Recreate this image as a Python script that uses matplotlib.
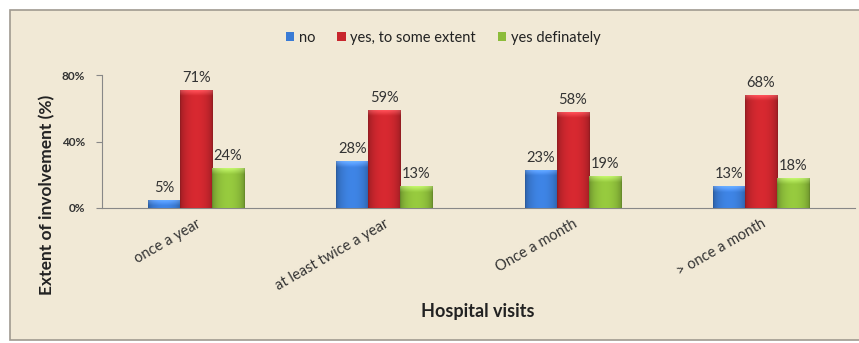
import numpy as np
import matplotlib
matplotlib.use("Agg")
import matplotlib.pyplot as plt
from matplotlib.colors import to_rgb
from matplotlib.patches import Rectangle

categories = ["once a year", "at least twice a year", "Once a month", "> once a month"]
series = ["no", "yes, to some extent", "yes definately"]
no_vals = [0.05, 0.28, 0.23, 0.13]
some_vals = [0.71, 0.59, 0.58, 0.68]
def_vals = [0.24, 0.13, 0.19, 0.18]
yticks = [0.0, 0.4, 0.8]
ytick_labels = ["0%", "40%", "80%"]

colors = ["#3a7bd5", "#c8262d", "#8cbc3a"]
bg = "#f1e9d6"

plt.rcParams["font.family"] = ["Lato", "DejaVu Sans"]

fig = plt.figure(figsize=(8.59, 3.43), dpi=100)
fig.patch.set_facecolor("white")
# chart frame
fig.patches.append(Rectangle((10 / 859, 3 / 343), 880 / 859, 330 / 343,
                             transform=fig.transFigure, facecolor=bg,
                             edgecolor="#a09a90", lw=1.2, zorder=-5))

ax = fig.add_axes([102 / 859, 1 - 208 / 343, 753 / 859, 133 / 343])
ax.set_facecolor("none")
ax.set_zorder(2)


def shaded_bar(ax, bar, color):
    # beveled look: darker sides, lighter middle, soft highlight at the top
    x0, w, h = bar.get_x(), bar.get_width(), bar.get_height()
    base = np.array(to_rgb(color))
    nx, ny = 40, 80
    xs = np.linspace(0, 1, nx)
    side = 0.72 + 0.36 * np.sin(np.pi * xs) ** 0.5
    img = np.ones((ny, nx, 3)) * base
    img *= side[None, :, None]
    px_h = max(h / 0.8 * 133, 1)
    ys = np.linspace(0, px_h, ny)
    top = np.clip(1 - (px_h - ys) / 6.0, 0, 1)
    img = img + top[:, None, None] * 0.18
    img = np.clip(img, 0, 1)
    im = ax.imshow(img, extent=(x0, x0 + w, 0, h), origin="lower",
                   aspect="auto", zorder=3, interpolation="bilinear")
    im.set_clip_path(bar)


x = np.arange(len(categories))
w = 0.17
for i, (vals, c) in enumerate(zip([no_vals, some_vals, def_vals], colors)):
    bars = ax.bar(x + (i - 1) * w, vals, w, color=c, label=series[i],
                  zorder=2, edgecolor="none")
    for b, v in zip(bars, vals):
        shaded_bar(ax, b, c)
        ax.text(b.get_x() + b.get_width() / 2, v + 0.03, f"{round(v * 100)}%",
                ha="center", va="bottom", fontsize=10.5, color="#333333")

ax.set_xlim(-0.5, len(categories) - 0.5)
ax.set_ylim(0, 0.8)
ax.set_yticks(yticks)
ax.set_yticklabels(ytick_labels, fontsize=8.5, color="#333333", fontweight="bold")
ax.set_xticks(x)
ax.set_xticklabels(categories, rotation=30, ha="right", va="top",
                   rotation_mode="anchor", fontsize=10.5, color="#333333")
ax.tick_params(axis="x", length=0, pad=6)
ax.tick_params(axis="y", length=4, color="#888888", direction="out", pad=8)
for s in ["top", "right"]:
    ax.spines[s].set_visible(False)
ax.spines["left"].set_color("#888888")
ax.spines["bottom"].set_color("#888888")

ax.legend(loc="center", bbox_to_anchor=(443 / 859, 1 - 38 / 343),
          bbox_transform=fig.transFigure, ncol=3, frameon=False,
          fontsize=10.5, handlelength=0.6, handleheight=0.6, handletextpad=0.3,
          columnspacing=1.5, labelcolor="#222222")

fig.text(47 / 859, 1 - 195 / 343, "Extent of involvement (%)", rotation=90,
         ha="center", va="center", fontsize=12.5, fontweight="bold", color="#222222")
fig.text(478 / 859, 1 - 312 / 343, "Hospital visits", ha="center", va="center",
         fontsize=13, fontweight="bold", color="#222222")

fig.savefig("out.png", dpi=100, facecolor=fig.get_facecolor())
